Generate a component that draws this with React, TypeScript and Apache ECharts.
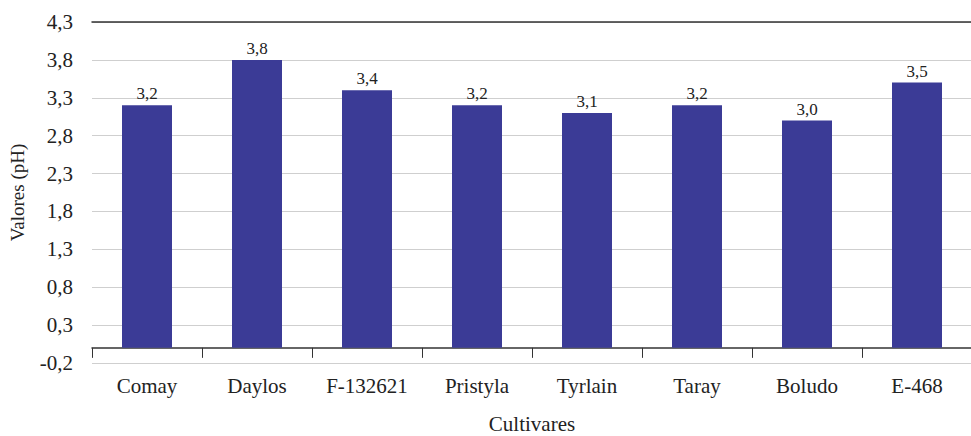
import React, { useEffect, useRef } from "react";
import * as echarts from "echarts";

const categories = ["Comay", "Daylos", "F-132621", "Pristyla", "Tyrlain", "Taray", "Boludo", "E-468"];
const phValues = [3.2, 3.8, 3.4, 3.2, 3.1, 3.2, 3.0, 3.5];
const yMin = -0.2;
const yMax = 4.3;
const yInterval = 0.5;

const fmt = (v: number) => v.toFixed(1).replace(".", ",");

export default function App() {
  const ref = useRef<HTMLDivElement>(null);
  useEffect(() => {
    if (!ref.current) return;
    document.body.style.margin = "0";
    const chart = echarts.init(ref.current, null, { renderer: "svg" });
    const font = "'Liberation Serif', 'Times New Roman', serif";
    chart.setOption({
      animation: false,
      textStyle: { fontFamily: font },
      grid: { left: 92, right: -1, top: 22, bottom: 73, containLabel: false, outerBoundsMode: "none" },
      xAxis: [
        {
          type: "category",
          data: categories,
          name: "Cultivares",
          nameLocation: "middle",
          nameGap: 50,
          nameMoveOverlap: false,
          nameTextStyle: { fontFamily: font, fontSize: 21, color: "#222" },
          axisLine: { show: true, onZero: true, lineStyle: { color: "#333", width: 1.5 } },
          axisTick: { show: true, alignWithLabel: false, length: 10, lineStyle: { color: "#333" } },
          axisLabel: { fontFamily: font, fontSize: 21, color: "#222", margin: 12 },
        },
        {
          type: "category",
          data: categories,
          position: "top",
          axisLine: { show: true, onZero: false, lineStyle: { color: "#333", width: 1.5 } },
          axisTick: { show: false },
          axisLabel: { show: false },
        },
      ],
      yAxis: {
        type: "value",
        min: yMin,
        max: yMax,
        interval: yInterval,
        name: "Valores (pH)",
        nameLocation: "middle",
        nameGap: 65,
        nameMoveOverlap: false,
        nameTextStyle: { fontFamily: font, fontSize: 19, color: "#222" },
        axisLine: { show: false },
        axisTick: { show: false },
        axisLabel: { fontFamily: font, fontSize: 21, color: "#222", margin: 19, formatter: (v: number) => fmt(v) },
        splitLine: { show: true, showMinLine: true, showMaxLine: true, lineStyle: { color: "#cfcfcf", width: 1 } },
      },
      series: [
        {
          type: "bar",
          data: phValues,
          barWidth: 50,
          itemStyle: { color: "#3b3b96" },
          label: {
            show: true,
            position: "top",
            distance: 3,
            fontFamily: font,
            fontSize: 17,
            color: "#222",
            formatter: (p: any) => fmt(p.value),
          },
        },
      ],
    });
    return () => chart.dispose();
  }, []);
  return <div ref={ref} style={{ width: 971, height: 436 }} />;
}
